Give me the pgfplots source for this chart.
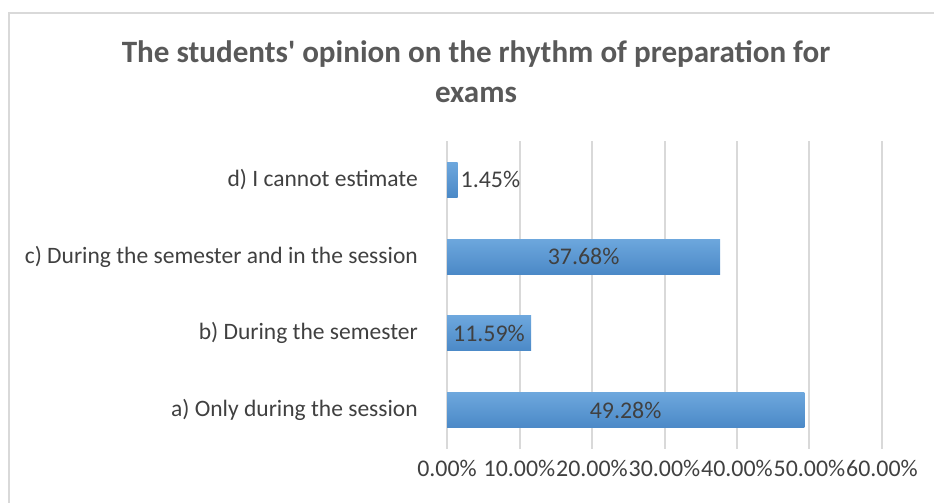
\documentclass[border=0pt]{standalone}
\usepackage{pgfplots}
\pgfplotsset{compat=1.18}
\usepackage{fontspec}
\setmainfont{Carlito}
\newfontfamily\titlefont{Carlito}[Ligatures=ResetAll]
\definecolor{txt}{HTML}{404040}
\definecolor{ttl}{HTML}{595959}
\definecolor{gridc}{HTML}{D9D9D9}
\definecolor{bartop}{HTML}{6DA7DD}
\definecolor{barbot}{HTML}{4B89C7}
\begin{document}
\begin{tikzpicture}
\path[use as bounding box] (0bp,0bp) rectangle (934bp,503bp);
\draw[gridc, line width=2bp] (9bp,0bp) -- (9bp,490bp) -- (934bp,490bp);
\node[text=ttl, font=\titlefont\fontsize{31.2}{40}\selectfont\bfseries, align=center] at (476bp,431bp)
  {The students' opinion on the rhythm of preparation for\\exams};
\begin{axis}[
  at={(447bp,54.5bp)}, anchor=south west,
  scale only axis, width=435bp, height=307bp,
  xmin=0, xmax=60, ymin=-0.5, ymax=3.5,
  axis line style={draw=none},
  xmajorgrids, grid style={gridc, line width=2bp},
  major tick length=0pt,
  xtick={0,10,20,30,40,50,60},
  xticklabels={0.00\%,10.00\%,20.00\%,30.00\%,40.00\%,50.00\%,60.00\%},
  ytick={0,1,2,3},
  yticklabels={a) Only during the session, b) During the semester, c) During the semester and in the session, d) I cannot estimate},
  xticklabel style={font=\fontsize{24}{28}\selectfont, text=txt, anchor=base, yshift=-28bp, inner sep=0pt},
  yticklabel style={font=\fontsize{23.6}{28}\selectfont, text=txt, anchor=east, xshift=-29bp, inner sep=0pt},
  clip=false,
  bstyle/.style={xbar, bar width=35bp, draw=none, top color=bartop, bottom color=barbot},
  lstyle/.style={only marks, mark=none, point meta=explicit symbolic, nodes near coords},
]
\addplot[bstyle] coordinates {(49.28,0)};
\addplot[bstyle] coordinates {(11.59,1)};
\addplot[bstyle] coordinates {(37.68,2)};
\addplot[bstyle] coordinates {(1.45,3)};
\addplot[lstyle,
  every node near coord/.append style={anchor=center, font=\fontsize{24}{28}\selectfont, text=txt}]
  coordinates {(24.64,0) [49.28\%] (5.795,1) [11.59\%] (18.84,2) [37.68\%]};
\addplot[lstyle,
  every node near coord/.append style={anchor=west, inner sep=0pt, xshift=3bp, font=\fontsize{24}{28}\selectfont, text=txt}]
  coordinates {(1.45,3) [1.45\%]};
\end{axis}
\end{tikzpicture}
\end{document}
